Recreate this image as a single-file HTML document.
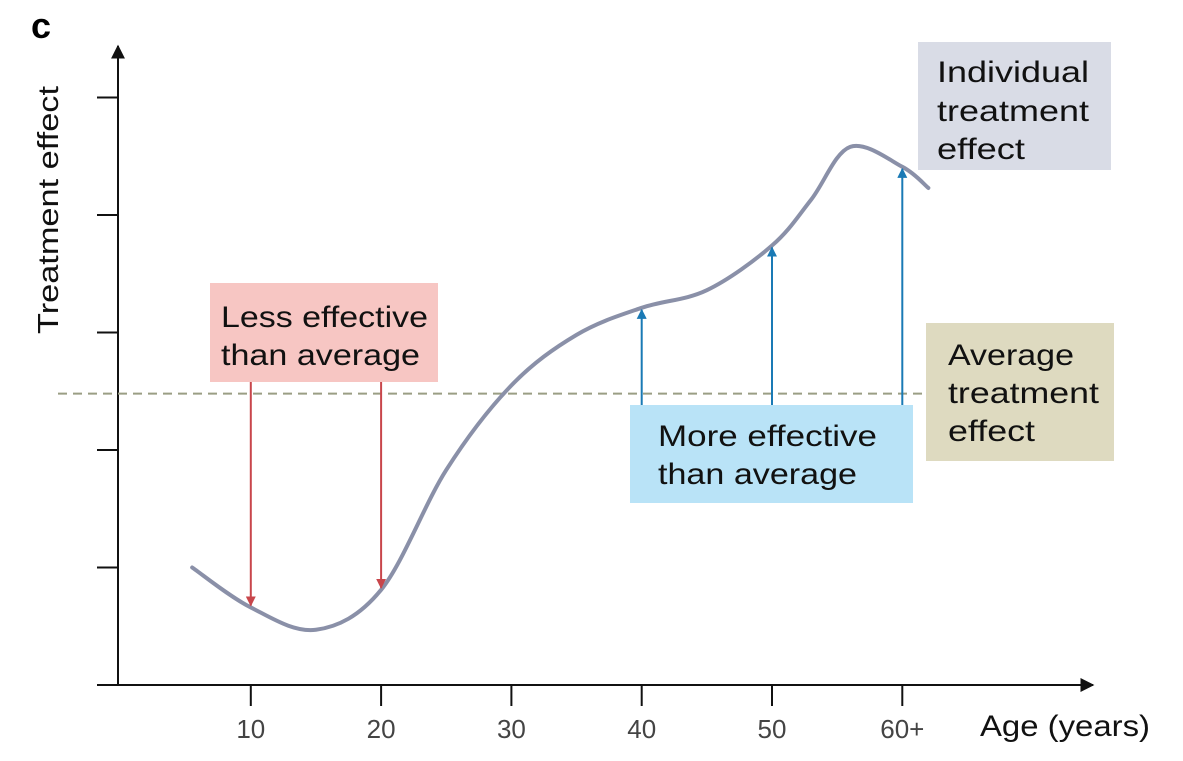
<!DOCTYPE html>
<html><head><meta charset="utf-8"><style>
body{margin:0;background:#fff;}
svg{display:block;font-family:"Liberation Sans",sans-serif;}
</style></head><body>
<svg id="chart" width="1183" height="761">
<text x="31" y="38" font-size="36" font-weight="bold" fill="#000">c</text>
<rect x="210" y="283" width="228" height="99" fill="#f7c6c3"/>
<text x="221" y="327" font-size="30" fill="#111" textLength="207" lengthAdjust="spacingAndGlyphs">Less effective</text>
<text x="221" y="365" font-size="30" fill="#111" textLength="199" lengthAdjust="spacingAndGlyphs">than average</text>
<rect x="630" y="405" width="283" height="98" fill="#b9e3f7"/>
<text x="658" y="446" font-size="30" fill="#111" textLength="219" lengthAdjust="spacingAndGlyphs">More effective</text>
<text x="658" y="484" font-size="30" fill="#111" textLength="199" lengthAdjust="spacingAndGlyphs">than average</text>
<rect x="918" y="42" width="193" height="128" fill="#d9dce6"/>
<text x="937" y="82" font-size="30" fill="#111" textLength="152" lengthAdjust="spacingAndGlyphs">Individual</text>
<text x="937" y="121" font-size="30" fill="#111" textLength="152" lengthAdjust="spacingAndGlyphs">treatment</text>
<text x="937" y="159" font-size="30" fill="#111" textLength="88" lengthAdjust="spacingAndGlyphs">effect</text>
<rect x="926" y="323" width="188" height="138" fill="#dedac0"/>
<text x="948" y="365" font-size="30" fill="#111" textLength="126" lengthAdjust="spacingAndGlyphs">Average</text>
<text x="948" y="403" font-size="30" fill="#111" textLength="151" lengthAdjust="spacingAndGlyphs">treatment</text>
<text x="948" y="441" font-size="30" fill="#111" textLength="87" lengthAdjust="spacingAndGlyphs">effect</text>
<g id="g"></g>
<text x="58" y="210" font-size="29" fill="#111" textLength="248" lengthAdjust="spacingAndGlyphs" transform="rotate(-90 58 210)" text-anchor="middle">Treatment effect</text>
<text x="980" y="736" font-size="30" fill="#111" textLength="170" lengthAdjust="spacingAndGlyphs">Age (years)</text>
</svg>
<script>
const xTicks=[10,20,30,40,50,60];
const xTickLabels=["10","20","30","40","50","60+"];
const yTicks=[1,2,3,4,5];
const curveAges=[5.5,10,15,20,25,30,35,40,45,50,53,56,60,62];
const curveEffects=[1.0,0.66,0.47,0.81,1.83,2.55,2.98,3.21,3.36,3.74,4.13,4.58,4.41,4.23];
const averageEffect=2.48;
const lessAges=[10,20];
const moreAges=[40,50,60];
const NS="http://www.w3.org/2000/svg";
const g=document.getElementById('g');
const X=a=>120.5+a*13.03;
const Y=v=>685-v*117.5;
function el(t,at){const e=document.createElementNS(NS,t);for(const k in at)e.setAttribute(k,at[k]);g.appendChild(e);return e;}
function interp(a){for(let i=0;i<curveAges.length-1;i++){if(a>=curveAges[i]&&a<=curveAges[i+1]){const t=(a-curveAges[i])/(curveAges[i+1]-curveAges[i]);return curveEffects[i]+t*(curveEffects[i+1]-curveEffects[i]);}}return curveEffects[0];}
const defs=document.createElementNS(NS,'defs');g.appendChild(defs);
[['ar','#c8464b'],['ab','#1a7ab5'],['ak','#111']].forEach(([id,c])=>{const m=document.createElementNS(NS,'marker');m.setAttribute('id',id);m.setAttribute('viewBox','0 0 10 10');m.setAttribute('refX','9');m.setAttribute('refY','5');m.setAttribute('markerWidth',id=='ak'?'14':'10');m.setAttribute('markerHeight',id=='ak'?'14':'10');m.setAttribute('markerUnits','userSpaceOnUse');m.setAttribute('orient','auto');const p=document.createElementNS(NS,'path');p.setAttribute('d','M0,0L10,5L0,10z');p.setAttribute('fill',c);m.appendChild(p);defs.appendChild(m);});
let e=el('line',{x1:118,y1:685,x2:118,y2:46,stroke:'#111','stroke-width':2,'marker-end':'url(#ak)'});


e=el('line',{x1:97,y1:685,x2:1093,y2:685,stroke:'#111','stroke-width':2,'marker-end':'url(#ak)'});


yTicks.forEach(v=>{const t=el('line',{x1:97,x2:118,y1:Y(v),y2:Y(v),stroke:'#111','stroke-width':2});

});
xTicks.forEach((a,i)=>{const t=el('line',{x1:X(a),x2:X(a),y1:685,y2:706,stroke:'#111','stroke-width':2});


const tx=el('text',{x:X(a),y:738,'font-size':26,fill:'#444','text-anchor':'middle'});tx.textContent=xTickLabels[i];

});
const avg=el('line',{x1:58,x2:926,y1:Y(averageEffect),y2:Y(averageEffect),stroke:'#9a9e84','stroke-width':2,'stroke-dasharray':'9,6'});


const P=curveAges.map((a,i)=>[X(a),Y(curveEffects[i])]);
let d='M'+P[0][0]+','+P[0][1];
for(let i=0;i<P.length-1;i++){const p0=P[Math.max(0,i-1)],p1=P[i],p2=P[i+1],p3=P[Math.min(P.length-1,i+2)];
d+=`C${p1[0]+(p2[0]-p0[0])/6},${p1[1]+(p2[1]-p0[1])/6} ${p2[0]-(p3[0]-p1[0])/6},${p2[1]-(p3[1]-p1[1])/6} ${p2[0]},${p2[1]}`;}
const c=el('path',{d:d,fill:'none',stroke:'#8a90a8','stroke-width':4,'stroke-linecap':'round'});


lessAges.forEach(a=>{const l=el('line',{x1:X(a),x2:X(a),y1:382,y2:Y(interp(a))-2,stroke:'#c8464b','stroke-width':2,'marker-end':'url(#ar)'});

});
moreAges.forEach(a=>{const l=el('line',{x1:X(a),x2:X(a),y1:405,y2:Y(interp(a))+2,stroke:'#1a7ab5','stroke-width':2,'marker-end':'url(#ab)'});

});
</script>
</body></html>
